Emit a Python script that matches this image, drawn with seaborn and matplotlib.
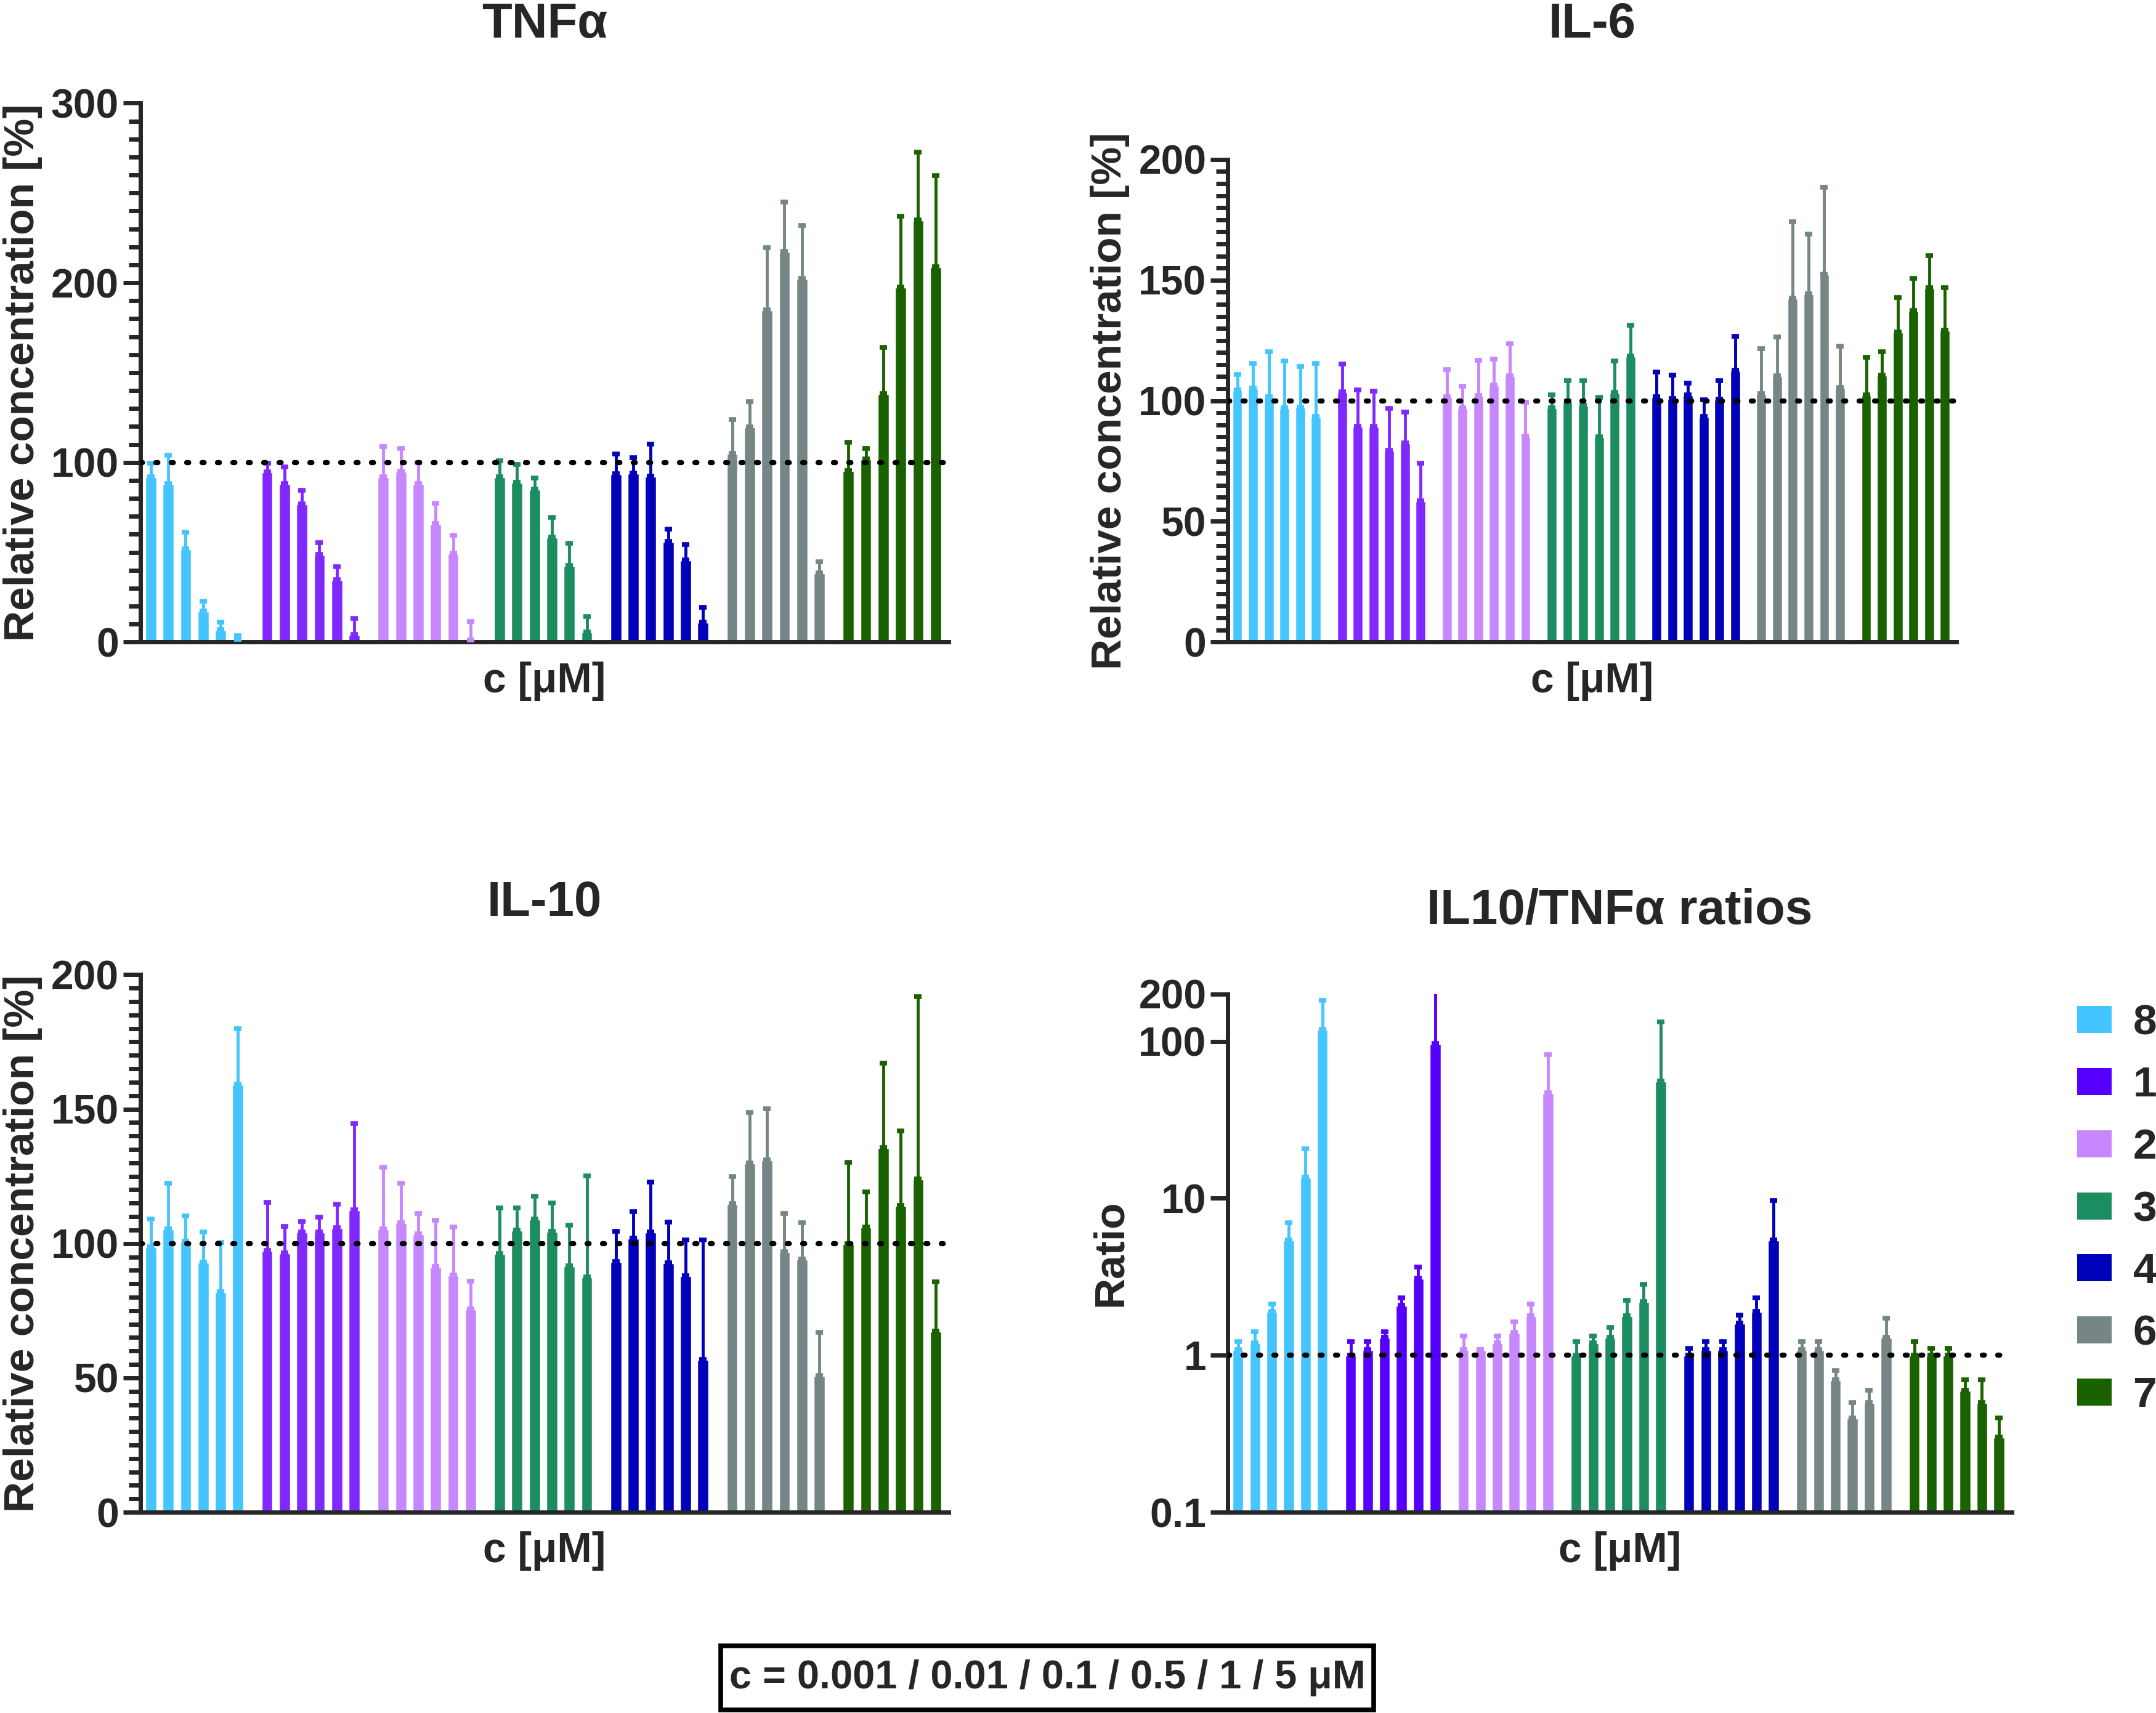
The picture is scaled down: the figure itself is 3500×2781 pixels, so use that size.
import numpy as np
import pandas as pd
import matplotlib
matplotlib.use("Agg")
import matplotlib.pyplot as plt
from matplotlib.patches import Patch, Rectangle
from matplotlib.ticker import MultipleLocator, FixedLocator, FixedFormatter, NullLocator
from matplotlib import font_manager
import seaborn as sns

# compounds (legend order) and concentrations in each group
compounds = ["8", "1", "2", "3", "4", "6", "7"]
conc = ["0.001", "0.01", "0.1", "0.5", "1", "5"]

colors = ["#44C5FF", "#8029FF", "#C787FF", "#1C8C61", "#0000BB", "#768585", "#1A6100"]
ratio_colors = ["#44C5FF", "#5500FF", "#C787FF", "#1C8C61", "#0000BB", "#768585", "#1A6100"]

# TNFa, relative concentration [%] (mean and upper SD)
tnf_mean = [[92, 88.4, 51.9, 17.2, 6.8, 1.5],
            [94.6, 88.4, 76.8, 48.8, 34.6, 4.1],
            [92, 95.2, 88.4, 65.8, 49.4, 1.2],
            [91.9, 89, 85, 58.5, 42.5, 5.6],
            [93.6, 94.2, 92.5, 56, 45.6, 11.2],
            [105.2, 119.7, 185, 217.4, 202.3, 38.4],
            [95.6, 102, 138.4, 197.7, 235, 209]]
tnf_sd = [[7.6, 15.6, 9.1, 5.6, 4.2, 2.2],
          [5, 9.1, 7.8, 6.4, 7.3, 8.9],
          [16.7, 12.7, 11.6, 11.6, 9.9, 10.2],
          [8.9, 10, 6.3, 10.8, 12.5, 8.7],
          [11.2, 8.5, 17.7, 6.9, 8.8, 8.1],
          [18.7, 14.1, 34.5, 27.4, 29.7, 6.2],
          [15.6, 5.7, 25.5, 39.4, 37.8, 50.8]]

# IL-6
il6_mean = [[104.4, 105.2, 101.6, 97.2, 97.3, 93.5],
            [103.8, 89.4, 89.4, 79.5, 82.5, 58.5],
            [101.7, 97.2, 102.1, 106.6, 110.3, 85.3],
            [97.2, 100, 98, 85.2, 103.5, 118.5],
            [101.7, 101, 102.4, 93.5, 100.7, 112.7],
            [103, 110.3, 142.6, 144.4, 152.5, 105.5],
            [102.4, 110.6, 128.5, 137.4, 147, 129.2]]
il6_sd = [[6.6, 10.2, 18.6, 19.4, 16.9, 21.9],
          [11.3, 15, 14.7, 17.3, 12.7, 15.5],
          [11.1, 8.8, 14.7, 10.6, 13.3, 14],
          [5.3, 8.3, 10.3, 16.2, 13.1, 12.8],
          [10.3, 9.6, 4.9, 6.9, 7.6, 14],
          [18.6, 16.1, 31.6, 24.6, 36.1, 17.1],
          [15.6, 9.6, 14.4, 13.2, 13.2, 17.6]]

# IL-10
il10_mean = [[98.9, 105.4, 100.9, 93, 82, 159.3],
             [97.5, 96.5, 104.2, 104.3, 106, 112.6],
             [105.4, 107.8, 103.7, 91.4, 88.3, 75.6],
             [96.3, 105, 109, 104.6, 91.6, 87.5],
             [93.3, 102, 104.3, 92.9, 88.1, 56.8],
             [114.8, 129.9, 131, 97, 94.1, 51],
             [99.9, 106.1, 135.7, 114.1, 124.1, 67.3]]
il10_sd = [[10.1, 17, 9.3, 11.2, 18.5, 20.7],
           [17.7, 9.8, 4.1, 5.5, 8.5, 32],
           [22.9, 14.7, 7.4, 17.2, 17.8, 10.3],
           [16.9, 8.2, 8.6, 10.4, 15.1, 37.6],
           [11.2, 9.8, 18.5, 15.1, 13.2, 44.5],
           [10.2, 18.9, 19.2, 14.2, 13.6, 16],
           [30.4, 13.2, 31.5, 27.8, 67.7, 18.5]]

# IL10/TNFa ratio
ratio_mean = [[1.09, 1.2, 1.91, 5.41, 13.6, 119.7],
              [1.0, 1.09, 1.3, 2.09, 3.09, 96.9],
              [1.09, 1.09, 1.2, 1.4, 1.79, 46.9],
              [1.0, 1.2, 1.3, 1.79, 2.2, 55.6],
              [1.0, 1.09, 1.09, 1.6, 1.91, 5.41],
              [1.09, 1.09, 0.70, 0.40, 0.50, 1.3],
              [1.0, 1.0, 1.0, 0.6, 0.5, 0.3]]
ratio_sd = [[0.13, 0.21, 0.21, 1.59, 7.0, 63],
            [0.22, 0.13, 0.11, 0.23, 0.55, 150],
            [0.23, 0.0, 0.12, 0.23, 0.33, 35.7],
            [0.22, 0.12, 0.2, 0.45, 0.64, 77],
            [0.11, 0.13, 0.13, 0.21, 0.41, 4.28],
            [0.13, 0.13, 0.1, 0.1, 0.1, 0.42],
            [0.22, 0.11, 0.11, 0.1, 0.2, 0.1]]

GROUP_STEP = 6.67  # 6 bars + gap

sns.set_style("ticks")
plt.rcParams["font.family"] = ["Liberation Sans", "DejaVu Sans"]
plt.rcParams["font.weight"] = "bold"
plt.rcParams["axes.labelweight"] = "bold"
plt.rcParams["axes.linewidth"] = 2.0


def make_df(means, sds):
    rows = []
    for g, comp in enumerate(compounds):
        for i, c in enumerate(conc):
            rows.append({"compound": comp, "conc": c, "pos": g * GROUP_STEP + i,
                         "value": means[g][i], "sd": sds[g][i]})
    return pd.DataFrame(rows)


def panel(ax, df, pal, log=False):
    if log:
        ax.set_yscale("log")
    sns.barplot(data=df, x="pos", y="value", hue="compound", hue_order=compounds,
                palette=dict(zip(compounds, pal)), native_scale=True, dodge=False,
                width=0.7, saturation=1, errorbar=None, legend=False, ax=ax)
    for comp, col in zip(compounds, pal):
        sub = df[df["compound"] == comp]
        ax.errorbar(sub["pos"], sub["value"], yerr=[np.zeros(len(sub)), sub["sd"]],
                    fmt="none", ecolor=col, elinewidth=1.4, capsize=1.6, capthick=2.2, zorder=3)
    ax.axhline(1 if log else 100, color="black", lw=2.4, ls=(0, (0.4, 2.6)),
               dash_capstyle="round", zorder=5)
    ax.set_xlim(-0.6, 6 * GROUP_STEP + 5.75)
    ax.set_xticks([])
    ax.set_xlabel("c [\u03bcM]", fontsize=19.5, labelpad=9)
    ax.tick_params(axis="y", which="major", length=8, width=2.0, labelsize=19, pad=2)
    ax.tick_params(axis="y", which="minor", length=5.5, width=2.0)
    sns.despine(ax=ax)


fig = plt.figure(figsize=(14, 11.124), dpi=250)

ax1 = fig.add_axes([0.0651, 0.6252, 0.3749, 0.3146])
ax2 = fig.add_axes([0.5695, 0.6252, 0.3380, 0.2817])
ax3 = fig.add_axes([0.0651, 0.1172, 0.3749, 0.3138])
ax4 = fig.add_axes([0.5695, 0.1172, 0.3635, 0.3025])

panel(ax1, make_df(tnf_mean, tnf_sd), colors)
ax1.set_ylim(0, 300)
ax1.yaxis.set_major_locator(MultipleLocator(100))
ax1.yaxis.set_minor_locator(MultipleLocator(10))
ax1.set_ylabel("Relative concentration [%]", fontsize=20)

panel(ax2, make_df(il6_mean, il6_sd), colors)
ax2.set_ylim(0, 200)
ax2.yaxis.set_major_locator(MultipleLocator(50))
ax2.yaxis.set_minor_locator(MultipleLocator(5))
ax2.set_ylabel("Relative concentration [%]", fontsize=20)

panel(ax3, make_df(il10_mean, il10_sd), colors)
ax3.set_ylim(0, 200)
ax3.yaxis.set_major_locator(MultipleLocator(50))
ax3.yaxis.set_minor_locator(MultipleLocator(5))
ax3.set_ylabel("Relative concentration [%]", fontsize=20)

panel(ax4, make_df(ratio_mean, ratio_sd), ratio_colors, log=True)
ax4.set_ylim(0.1, 200)
ratio_ticks = [0.1, 1, 10, 100, 200]
ax4.yaxis.set_major_locator(FixedLocator(ratio_ticks))
ax4.yaxis.set_major_formatter(FixedFormatter(["0.1", "1", "10", "100", "200"]))
ax4.yaxis.set_minor_locator(NullLocator())
ax4.set_ylabel("Ratio", fontsize=20)

for ax in (ax1, ax2, ax3, ax4):
    for lab in ax.get_yticklabels():
        lab.set_fontweight("bold")

# panel titles
titles = [(ax1, "TNF\u03b1", 0.9856), (ax2, "IL-6", 0.9856),
          (ax3, "IL-10", 0.4725), (ax4, "IL10/TNF\u03b1 ratios", 0.468)]
for ax, t, y in titles:
    b = ax.get_position()
    fig.text((b.x0 + b.x1) / 2, y, t, ha="center", va="center", fontsize=23, fontweight="bold")

# legend
handles = [Patch(facecolor=c, edgecolor="none") for c in ratio_colors]
fig.legend(handles, compounds, loc="upper left", bbox_to_anchor=(0.9635, 0.414),
           frameon=False, handlelength=0.8, handleheight=0.6,
           handletextpad=0.5, labelspacing=0.53, borderpad=0, borderaxespad=0,
           prop={"weight": "bold", "size": 20})

# concentration box
narrow = any("Narrow" in f.name for f in font_manager.fontManager.ttflist)
box_family = ["Liberation Sans Narrow", "Liberation Sans"] if narrow else ["Liberation Sans"]
box_size = 18.7 if narrow else 15.8
fig.patches.append(Rectangle((0.3342, 0.0018), 0.3029, 0.0375, transform=fig.transFigure,
                             facecolor="white", edgecolor="black", lw=2.2, zorder=1))
fig.text(0.4857, 0.0205, "c = 0.001 / 0.01 / 0.1 / 0.5 / 1 / 5 \u03bcM", ha="center", va="center",
         fontsize=box_size, fontweight="bold", family=box_family, zorder=2)

fig.savefig("out.png", dpi=250)
